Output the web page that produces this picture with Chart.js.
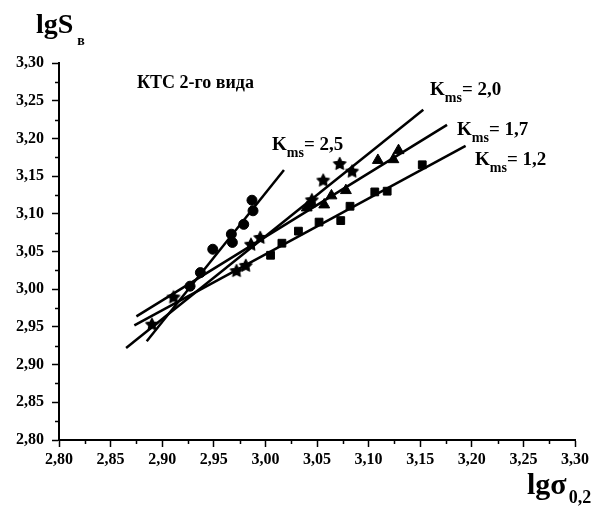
<!DOCTYPE html>
<html>
<head>
<meta charset="utf-8">
<script src="https://cdn.jsdelivr.net/npm/chart.js@4/dist/chart.umd.min.js"></script>
<style>
  html, body { margin: 0; padding: 0; background: #fff; }
  #wrap { width: 597px; height: 510px; position: relative; }
</style>
</head>
<body>
<div id="wrap"><canvas id="chart"></canvas></div>
<script>
// experimental points, lg σ0,2 vs lg Sв
const circleX = [2.987, 2.988, 2.979, 2.967, 2.968, 2.949, 2.937, 2.927];
const circleY = [3.118, 3.104, 3.086, 3.073, 3.062, 3.053, 3.022, 3.004];

const starX = [2.890, 2.911, 2.972, 2.981, 2.986, 2.995, 3.045, 3.056, 3.072, 3.084];
const starY = [2.953, 2.989, 3.024, 3.031, 3.059, 3.068, 3.118, 3.144, 3.166, 3.156];

const triX = [3.040, 3.043, 3.057, 3.064, 3.078, 3.109, 3.124, 3.129];
const triY = [3.108, 3.113, 3.112, 3.124, 3.131, 3.171, 3.172, 3.184];

const sqX = [3.005, 3.016, 3.032, 3.052, 3.073, 3.082, 3.106, 3.118, 3.152];
const sqY = [3.045, 3.061, 3.077, 3.089, 3.091, 3.110, 3.129, 3.130, 3.165];

// regression lines (end points)
const fit25X = [2.885, 3.018], fit25Y = [2.931, 3.158];
const fit20X = [2.865, 3.153], fit20Y = [2.922, 3.238];
const fit17X = [2.875, 3.176], fit17Y = [2.964, 3.218];
const fit12X = [2.873, 3.194], fit12Y = [2.952, 3.190];

const kValues = ['2,5', '2,0', '1,7', '1,2'];

const FONT = "'Liberation Serif', 'Times New Roman', serif";
const pts = (xs, ys) => xs.map((x, i) => ({ x, y: ys[i] }));
const fmt = v => v.toFixed(2).replace('.', ',');

// filled five-pointed star used as a point style
function starImage(r) {
  const s = Math.ceil(r * 2 + 3);
  const c = document.createElement('canvas');
  c.width = c.height = s;
  const g = c.getContext('2d');
  g.fillStyle = '#000';
  g.strokeStyle = '#000';
  g.lineWidth = 1.2;
  g.lineJoin = 'round';
  g.beginPath();
  for (let i = 0; i < 10; i++) {
    const rad = i % 2 ? r * 0.5 : r;
    const ang = -Math.PI / 2 + i * Math.PI / 5;
    g.lineTo(s / 2 + rad * Math.cos(ang), s / 2 + rad * Math.sin(ang));
  }
  g.closePath();
  g.fill();
  g.stroke();
  return c;
}

function fitLine(xs, ys) {
  return {
    data: pts(xs, ys), showLine: true, pointRadius: 0,
    borderColor: '#000', borderWidth: 2.5, fill: false,
  };
}

function marks(xs, ys, style, r) {
  return {
    data: pts(xs, ys), showLine: false, pointStyle: style, pointRadius: r,
    backgroundColor: '#000', borderColor: '#000', borderWidth: 1,
  };
}

// K_ms labels with subscript
function drawK(ctx, x, y, val) {
  ctx.font = 'bold 19px ' + FONT;
  ctx.fillText('K', x, y);
  let w = ctx.measureText('K').width;
  ctx.font = 'bold 14px ' + FONT;
  ctx.fillText('ms', x + w, y + 7);
  w += ctx.measureText('ms').width;
  ctx.font = 'bold 19px ' + FONT;
  ctx.fillText('= ' + val, x + w, y);
}

const decor = {
  id: 'decor',
  afterDraw(chart) {
    const { ctx, chartArea: a, scales: { x, y } } = chart;
    ctx.save();
    // minor ticks halfway between the labelled ones
    ctx.strokeStyle = '#000';
    ctx.lineWidth = 1.5;
    ctx.beginPath();
    for (let v = 2.825; v < 3.3; v += 0.05) {
      const px = Math.round(x.getPixelForValue(v)) + 0.5;
      ctx.moveTo(px, a.bottom); ctx.lineTo(px, a.bottom + 4);
      const py = Math.round(y.getPixelForValue(v)) + 0.5;
      ctx.moveTo(a.left, py); ctx.lineTo(a.left - 4, py);
    }
    ctx.stroke();

    ctx.fillStyle = '#000';
    ctx.textBaseline = 'alphabetic';
    ctx.textAlign = 'left';

    ctx.font = 'bold 18px ' + FONT;
    ctx.fillText('КТС 2-го вида', 137, 88);

    drawK(ctx, 272, 150, kValues[0]);
    drawK(ctx, 430, 95, kValues[1]);
    drawK(ctx, 457, 135, kValues[2]);
    drawK(ctx, 475, 165, kValues[3]);

    // axis titles
    ctx.font = 'bold 28px ' + FONT;
    ctx.fillText('lgS', 36, 33);
    let w = ctx.measureText('lgS').width;
    ctx.font = 'bold 14px ' + FONT;
    ctx.fillText('в', 36 + w + 4, 45);

    ctx.font = 'bold 30px ' + FONT;
    ctx.fillText('lgσ', 527, 494);
    w = ctx.measureText('lgσ').width;
    ctx.font = 'bold 18px ' + FONT;
    ctx.fillText('0,2', 527 + w + 2, 503);
    ctx.restore();
  }
};

const axisCommon = {
  type: 'linear', min: 2.8, max: 3.3,
  border: { display: true, color: '#000', width: 2 },
  grid: { drawOnChartArea: false, drawTicks: true, tickLength: 7, tickColor: '#000', tickWidth: 1.5 },
};

new Chart(document.getElementById('chart'), {
  type: 'scatter',
  data: {
    datasets: [
      fitLine(fit25X, fit25Y),
      fitLine(fit20X, fit20Y),
      fitLine(fit17X, fit17Y),
      fitLine(fit12X, fit12Y),
      marks(circleX, circleY, 'circle', 5),
      marks(starX, starY, starImage(6.5), 6.5),
      marks(triX, triY, 'triangle', 6.3),
      marks(sqX, sqY, 'rect', 5.5),
    ],
  },
  options: {
    responsive: true,
    maintainAspectRatio: false,
    animation: false,
    layout: { padding: { top: 63, right: 22, left: 0, bottom: 0 } },
    plugins: { legend: { display: false }, tooltip: { enabled: false } },
    scales: {
      x: {
        ...axisCommon,
        afterFit: s => { s.height = 70; },
        ticks: { stepSize: 0.05, color: '#000', padding: 3, maxRotation: 0,
                 font: { family: FONT, size: 16, weight: 'bold' }, callback: fmt },
      },
      y: {
        ...axisCommon,
        afterFit: s => { s.width = 59; },
        ticks: { stepSize: 0.05, color: '#000', padding: 8,
                 font: { family: FONT, size: 16, weight: 'bold' }, callback: fmt },
      },
    },
  },
  plugins: [decor],
});
</script>
</body>
</html>
